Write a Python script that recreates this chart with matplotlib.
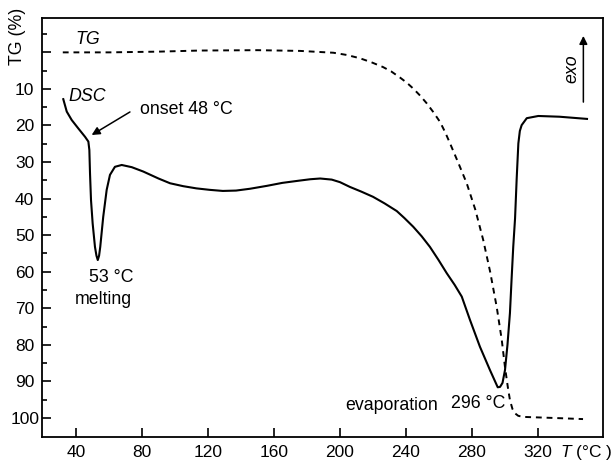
import matplotlib
matplotlib.use("Agg")
import matplotlib.pyplot as plt
from matplotlib.transforms import blended_transform_factory

plt.rcParams['font.family'] = ['Liberation Sans', 'DejaVu Sans']
plt.rcParams['mathtext.fontset'] = 'custom'
plt.rcParams['mathtext.it'] = 'Liberation Sans:italic'
plt.rcParams['mathtext.rm'] = 'Liberation Sans'

# DSC curve (plotted on the TG axis scale)
dsc_T = [32.3, 34.4, 37.4, 41.4, 45.5, 47.5, 48.1, 48.5, 49.1, 50.1, 51.5, 52.4, 53.2,
         54.0, 54.7, 56.5, 58.6, 60.6, 63.6, 67.7, 73.8, 80.8, 90.0, 97.0, 105.0, 113.0,
         121.0, 129.0, 137.0, 145.5, 155.8, 165.0, 175.0, 182.0, 188.0, 195.0, 200.0,
         206.0, 213.0, 220.0, 227.0, 234.4, 239.0, 244.4, 249.5, 254.5, 259.6, 264.7,
         269.5, 273.8, 278.8, 284.8,
         290.9, 294.0, 295.6, 297.0, 298.5, 300.0, 301.5, 303.0, 304.0, 305.0, 306.1,
         307.1, 308.1, 309.0, 310.1, 313.2, 320.2, 333.0, 349.7]
dsc_v = [12.8, 16.2, 18.5, 20.8, 23.1, 24.4, 26.7, 33.1, 40.4, 46.8, 53.2, 55.6, 56.8,
         55.6, 53.2, 45.0, 37.6, 33.5, 31.3, 30.8, 31.4, 32.6, 34.5, 35.8, 36.6, 37.2,
         37.6, 37.9, 37.8, 37.3, 36.5, 35.7, 35.1, 34.7, 34.5, 34.8, 35.5,
         36.8, 38.1, 39.5, 41.3, 43.4, 45.3, 47.7, 50.3, 53.2, 56.7, 60.4,
         63.6, 66.8, 73.2, 80.5,
         86.9, 90.0, 91.6, 91.5, 90.4, 86.9, 80.0, 71.3, 62.0, 53.2, 45.4,
         34.4, 24.9, 21.5, 19.9, 18.0, 17.4, 17.6, 18.2]

# TG curve
tg_T = [32.0, 60.0, 90.0, 115.0, 150.0, 175.8, 196.0, 204.0, 212.0, 219.0, 226.0, 231.0,
        236.4, 240.5, 244.4, 248.5, 252.5, 256.5, 260.6, 263.7, 266.7, 271.5, 276.8,
        282.0, 286.8, 291.0, 295.0, 298.0, 300.0, 301.7, 303.0, 304.5, 306.0, 308.0,
        310.9, 330.0, 347.3]
tg_v = [0.0, 0.0, -0.2, -0.5, -0.6, -0.4, 0.1, 0.7, 1.6, 2.7, 4.0, 5.2,
        6.9, 8.3, 9.9, 11.8, 13.9, 16.3, 19.0, 21.8, 24.9, 30.0, 35.8,
        43.0, 51.3, 60.0, 69.7, 78.5, 86.1, 91.5, 95.1, 97.5, 98.7, 99.4,
        99.7, 100.0, 100.3]

x_ticks = [40, 80, 120, 160, 200, 240, 280, 320]
y_ticks = [10, 20, 30, 40, 50, 60, 70, 80, 90, 100]

fig = plt.figure(figsize=(6.13, 4.62), dpi=100)
ax = fig.add_axes([42/613, 1-437/462, (603-42)/613, (437-18)/462])

ax.plot(dsc_T, dsc_v, color='black', lw=1.5, solid_joinstyle='round')
ax.plot(tg_T, tg_v, color='black', lw=1.4, linestyle=(0, (3, 2.5)))

ax.set_xlim(19.4, 359.4)
ax.set_ylim(105.2, -9.4)

ax.set_xticks(x_ticks)
ax.set_yticks([0] + y_ticks)
ax.set_yticklabels([''] + [str(v) for v in y_ticks])
ax.set_yticks([-5, 5, 15, 25, 35, 45, 55, 65, 75, 85, 95], minor=True)
ax.tick_params(axis='both', which='major', direction='in', length=6.5, width=1.2,
               labelsize=12.5)
ax.tick_params(axis='y', which='minor', direction='in', length=3.6, width=1.2)
ax.tick_params(axis='y', which='major', pad=12.5)
ax.tick_params(axis='x', which='major', pad=6)
for lab in ax.get_yticklabels():
    lab.set_horizontalalignment('center')
for s in ax.spines.values():
    s.set_linewidth(1.3)

fs = 12.8
ax.text(47, -3.4, 'TG', style='italic', fontsize=fs, ha='center', va='center')
ax.text(47, 12.2, 'DSC', style='italic', fontsize=fs, ha='center', va='center')
ax.annotate('', xy=(49.5, 22.6), xytext=(72.7, 16.3),
            arrowprops=dict(arrowstyle='-|>', color='black', lw=1.1,
                            mutation_scale=12, shrinkA=0, shrinkB=0))
ax.text(106.7, 15.5, 'onset 48 \u00b0C', fontsize=fs, ha='center', va='center')
ax.text(61.2, 61.5, '53 \u00b0C', fontsize=fs, ha='center', va='center')
ax.text(56.4, 67.7, 'melting', fontsize=fs, ha='center', va='center')
ax.text(231.5, 96.5, 'evaporation', fontsize=fs, ha='center', va='center')
ax.text(284, 96.0, '296 \u00b0C', fontsize=fs, ha='center', va='center')
ax.text(340.6, 4.5, 'exo', style='italic', fontsize=fs, rotation=90,
        ha='center', va='center')
ax.annotate('', xy=(347.5, -4.5), xytext=(347.5, 13.6),
            arrowprops=dict(arrowstyle='-|>', color='black', lw=1.1,
                            mutation_scale=12, shrinkA=0, shrinkB=0))

tr = blended_transform_factory(ax.transData, ax.transAxes)
ax.annotate('$\\mathit{T}$ (\u00b0C )', xy=(349, 0), xycoords=tr, xytext=(0, -14.6),
            textcoords='offset points', ha='center', va='baseline', fontsize=12.5)

fig.text(18/613, 1-36/462, 'TG (%)', rotation=90, fontsize=fs,
         ha='center', va='center')

fig.savefig('out.png', dpi=100)
